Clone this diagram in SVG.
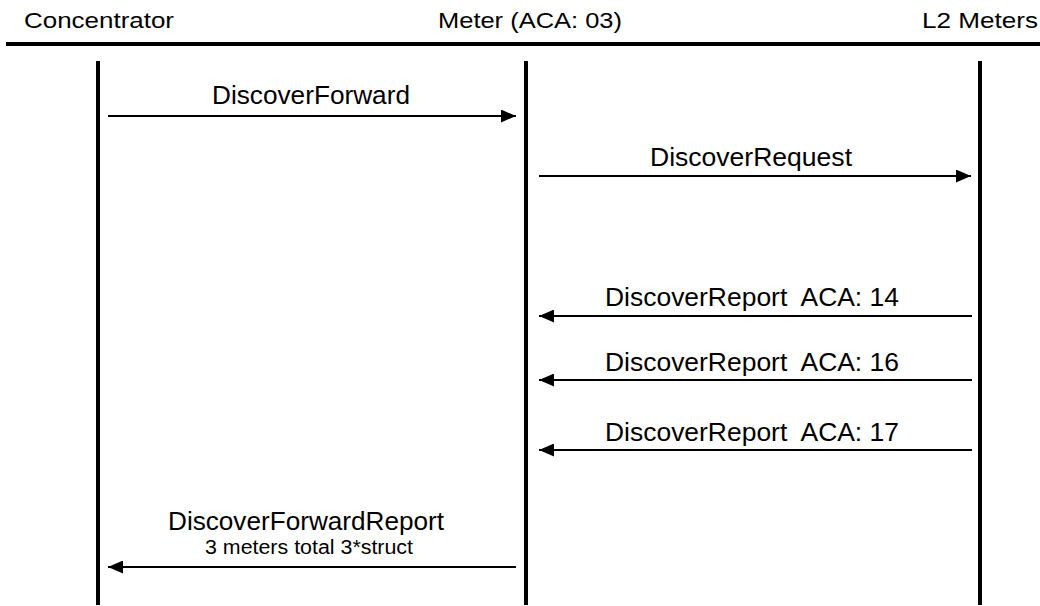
<svg xmlns="http://www.w3.org/2000/svg" width="1040" height="606" viewBox="0 0 1040 606">
  <style>
    .hdr { font-family: "Liberation Sans", Arial, sans-serif; font-size: 22px; fill: #000; text-anchor: middle; }
    .msg { font-family: "Liberation Sans", Arial, sans-serif; font-size: 25px; fill: #000; text-anchor: middle; }
    .sub { font-family: "Liberation Sans", Arial, sans-serif; font-size: 19.5px; fill: #000; text-anchor: middle; }
    .life { stroke: #000; stroke-width: 4; }
    .arrow { stroke: #000; stroke-width: 2.2; fill: none; marker-end: url(#head); }
  </style>
  <defs>
    <marker id="head" viewBox="0 0 15 13" refX="15" refY="6.5" markerWidth="15" markerHeight="13" markerUnits="userSpaceOnUse" orient="auto">
      <path d="M0,0 L15,6.5 L0,13 Z" fill="#000"/>
    </marker>
  </defs>
  <rect width="1040" height="606" fill="#fff"/>

  <!-- header rule -->
  <line x1="6" y1="44" x2="1040" y2="44" stroke="#000" stroke-width="4"/>

  <g id="concentrator">
    <text class="hdr" x="99" y="28" textLength="150" lengthAdjust="spacingAndGlyphs">Concentrator</text>
    <line class="life" x1="98" y1="61" x2="98" y2="605"/>
  </g>
  <g id="meter">
    <text class="hdr" x="530" y="28" textLength="184" lengthAdjust="spacingAndGlyphs">Meter (ACA: 03)</text>
    <line class="life" x1="526" y1="61" x2="526" y2="605"/>
  </g>
  <g id="l2meters">
    <text class="hdr" x="980" y="28" textLength="116" lengthAdjust="spacingAndGlyphs">L2 Meters</text>
    <line class="life" x1="980" y1="61" x2="980" y2="605"/>
  </g>

  <g id="connectors">
    <line class="arrow" x1="108" y1="116" x2="516" y2="116"/>
    <text class="msg" x="311" y="104" textLength="198" lengthAdjust="spacingAndGlyphs">DiscoverForward</text>

    <line class="arrow" x1="539" y1="176" x2="971" y2="176"/>
    <text class="msg" x="751" y="166" textLength="202" lengthAdjust="spacingAndGlyphs">DiscoverRequest</text>

    <line class="arrow" x1="972" y1="316" x2="539" y2="316"/>
    <text class="msg" x="752" y="306" textLength="294" lengthAdjust="spacingAndGlyphs" xml:space="preserve">DiscoverReport  ACA: 14</text>

    <line class="arrow" x1="972" y1="380" x2="539" y2="380"/>
    <text class="msg" x="752" y="371" textLength="294" lengthAdjust="spacingAndGlyphs" xml:space="preserve">DiscoverReport  ACA: 16</text>

    <line class="arrow" x1="972" y1="450" x2="539" y2="450"/>
    <text class="msg" x="752" y="441" textLength="294" lengthAdjust="spacingAndGlyphs" xml:space="preserve">DiscoverReport  ACA: 17</text>

    <line class="arrow" x1="516" y1="567" x2="108" y2="567"/>
    <text class="msg" x="306" y="530" textLength="276" lengthAdjust="spacingAndGlyphs">DiscoverForwardReport</text>
    <text class="sub" x="309" y="554" textLength="208" lengthAdjust="spacingAndGlyphs">3 meters total 3*struct</text>
  </g>
</svg>
